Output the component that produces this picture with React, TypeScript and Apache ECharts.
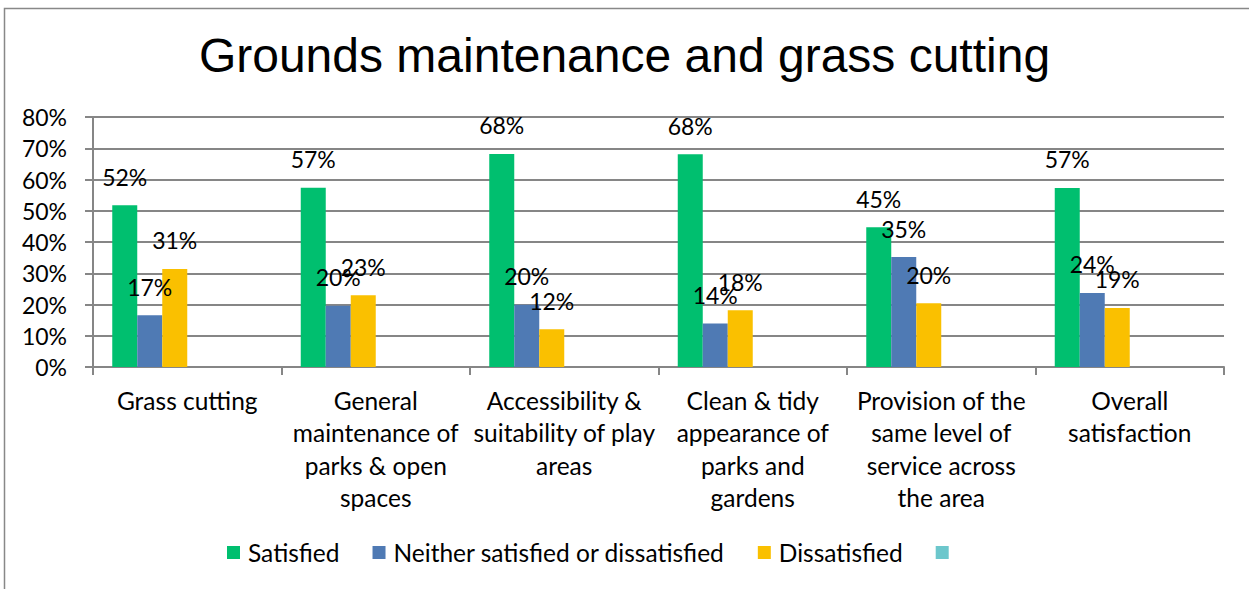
import React, { useEffect, useRef } from "react";
import * as echarts from "echarts";

const categories = [
  "Grass cutting",
  "General\nmaintenance of\nparks & open\nspaces",
  "Accessibility &\nsuitability of play\nareas",
  "Clean & tidy\nappearance of\nparks and\ngardens",
  "Provision of the\nsame level of\nservice across\nthe area",
  "Overall\nsatisfaction",
];
const satisfied = [51.8, 57.4, 68.2, 68.1, 44.7, 57.3];
const neither = [16.6, 19.6, 19.9, 13.9, 35.2, 23.7];
const dissatisfied = [31.4, 23.0, 12.1, 18.2, 20.4, 18.9];
const yTicks = [0, 10, 20, 30, 40, 50, 60, 70, 80];

const FONT = "Lato";

export default function App() {
  const ref = useRef<HTMLDivElement>(null);
  useEffect(() => {
    document.body.style.margin = "0";
    const chart = echarts.init(ref.current!, null, { renderer: "svg" });
    const label = {
      show: true,
      position: "top",
      distance: 17,
      color: "#000",
      fontFamily: FONT,
      fontSize: 23,
      formatter: (p: any) => Math.round(p.value) + "%",
    };
    const mk = (name: string, data: (number | null)[], color: string, withLabel = true) => ({
      name,
      type: "bar",
      data,
      barWidth: 25,
      barGap: "0%",
      itemStyle: { color },
      label: withLabel ? label : { show: false },
    });
    const empty = categories.map(() => null);
    chart.setOption({
      animation: false,
      backgroundColor: "#fff",
      title: {
        text: "Grounds maintenance and grass cutting",
        left: "center",
        top: 26,
        textStyle: { fontFamily: "Liberation Sans", fontSize: 48, fontWeight: "normal", color: "#000" },
      },
      graphic: [
        {
          type: "rect",
          shape: { x: 4.5, y: 8.5, width: 1260, height: 600 },
          style: { fill: "none", stroke: "#888", lineWidth: 1.5 },
          silent: true,
        },
      ],
      legend: {
        bottom: 19,
        left: 222,
        itemWidth: 13,
        itemHeight: 13,
        itemGap: 33,
        icon: "rect",
        data: ["Satisfied", "Neither satisfied or dissatisfied", "Dissatisfied", " "],
        textStyle: { fontFamily: FONT, fontSize: 24.5, color: "#000", padding: [0, 0, 0, 3] },
      },
      grid: { left: 93, right: 25, top: 117, bottom: 222, containLabel: false },
      xAxis: {
        type: "category",
        data: categories,
        axisLine: { lineStyle: { color: "#868686", width: 2 } },
        axisTick: { show: true, length: 8, lineStyle: { color: "#868686", width: 2 } },
        axisLabel: {
          interval: 0,
          margin: 17,
          lineHeight: 32.5,
          fontFamily: FONT,
          fontSize: 24.5,
          color: "#000",
        },
      },
      yAxis: {
        type: "value",
        min: 0,
        max: 80,
        interval: 10,
        axisLine: { show: true, lineStyle: { color: "#868686", width: 2 } },
        axisTick: { show: true, length: 8, lineStyle: { color: "#868686", width: 2 } },
        splitLine: { lineStyle: { color: "#868686", width: 2 } },
        axisLabel: {
          margin: 26,
          fontFamily: FONT,
          fontSize: 23,
          color: "#000",
          formatter: (v: number) => (yTicks.includes(v) ? v + "%" : ""),
        },
      },
      series: [
        mk("Satisfied", satisfied, "#00BF6F"),
        mk("Neither satisfied or dissatisfied", neither, "#4F7AB4"),
        mk("Dissatisfied", dissatisfied, "#FAC000"),
        mk(" ", empty, "#6CC7CC", false),
        mk("_s5", empty, "#ffffff", false),
        mk("_s6", empty, "#ffffff", false),
      ],
    });
    return () => chart.dispose();
  }, []);
  return <div ref={ref} style={{ width: 1249, height: 589 }} />;
}
